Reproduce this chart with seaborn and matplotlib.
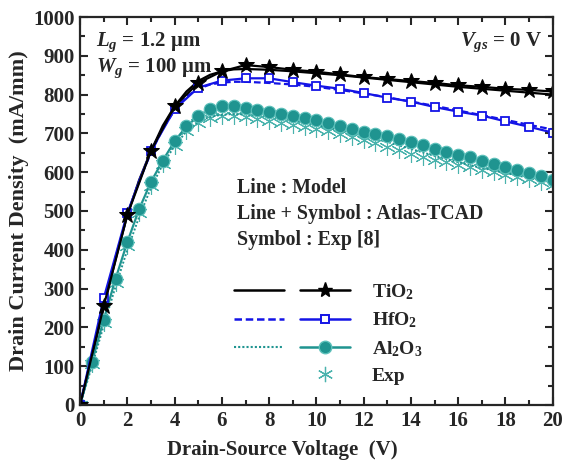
import numpy as np
import pandas as pd
import seaborn as sns
import matplotlib.pyplot as plt
from matplotlib.lines import Line2D
from matplotlib.legend_handler import HandlerTuple
from matplotlib.ticker import MultipleLocator

# --- data ---
v_int = list(range(0, 21))
tio2_tcad = [0, 255, 490, 655, 770, 830, 860, 876, 871, 864, 859, 852, 845, 840, 835, 830, 824, 820, 815, 812, 808]
hfo2_tcad = [0, 275, 495, 655, 762, 818, 836, 842, 842, 832, 823, 815, 804, 792, 782, 768, 756, 746, 731, 717, 702]

v_model = [0, 0.5, 1, 1.5, 2, 2.5, 3, 3.5, 4, 4.5, 5, 5.5, 6, 6.5, 7, 8, 9, 10, 11, 12, 13, 14, 15, 16, 17, 18, 19, 20]
tio2_model = [0, 125, 250, 375, 490, 580, 655, 720, 770, 808, 835, 851, 860, 865, 866, 864, 860, 855, 850, 844, 838, 832, 826, 820, 815, 810, 805, 800]
hfo2_model = [0, 130, 260, 380, 490, 578, 650, 712, 760, 795, 815, 826, 831, 833, 833, 830, 826, 820, 812, 803, 793, 782, 771, 759, 747, 735, 722, 710]
al2o3_model = [0, 100, 205, 305, 400, 485, 560, 620, 668, 705, 730, 743, 748, 750, 749, 744, 735, 722, 708, 693, 678, 660, 642, 626, 611, 598, 585, 572]

v_half = [i * 0.5 for i in range(41)]
al2o3_tcad = [0, 110, 220, 325, 420, 505, 575, 630, 680, 718, 745, 763, 770, 770, 766, 761, 756, 751, 746, 740,
              734, 726, 718, 711, 704, 699, 694, 686, 678, 669, 660, 652, 645, 638, 630, 622, 614, 606, 598, 589, 580]
exp_al2o3 = [0, 105, 210, 315, 410, 495, 565, 620, 668, 705, 728, 740, 745, 745, 742, 737, 732, 727, 721, 717,
             712, 705, 698, 691, 684, 675, 666, 657, 648, 640, 632, 625, 619, 613, 606, 600, 594, 588, 582, 575, 567]

black = "black"
blue = "#1414e6"
teal = "#1f9490"
teal_exp = "#4ab3ad"

sns.set_style("ticks")
plt.rcParams["font.family"] = ["Liberation Serif", "DejaVu Serif"]
plt.rcParams["font.weight"] = "bold"
plt.rcParams["mathtext.fontset"] = "custom"
plt.rcParams["mathtext.rm"] = "Liberation Serif:bold"
plt.rcParams["mathtext.bf"] = "Liberation Serif:bold"
plt.rcParams["mathtext.it"] = "Liberation Serif:bold:italic"

fig = plt.figure(figsize=(5.64, 4.66), dpi=100)
ax = fig.add_axes([0.142, 0.131, 0.838, 0.8325])

# experiment (symbols only)
sns.lineplot(x=v_half, y=exp_al2o3, ax=ax, color=teal_exp, linestyle="none", marker=(6, 2, 0),
             markersize=12, markeredgewidth=0.8, markeredgecolor=teal_exp, sort=False)
# model lines
sns.lineplot(x=v_model, y=tio2_model, ax=ax, color=black, linewidth=1.6, sort=False)
sns.lineplot(x=v_model, y=hfo2_model, ax=ax, color=blue, linewidth=1.6, linestyle=(0, (3, 1.5)), sort=False)
sns.lineplot(x=v_model, y=al2o3_model, ax=ax, color=teal, linewidth=1.4, linestyle=(0, (1, 1)), sort=False)
# TCAD lines + symbols
sns.lineplot(x=v_half, y=al2o3_tcad, ax=ax, color=teal, linewidth=1.6, marker="o", markersize=9,
             markerfacecolor=teal, markeredgecolor="#5cc0ba", markeredgewidth=0.8, sort=False)
sns.lineplot(x=v_int, y=hfo2_tcad, ax=ax, color=blue, linewidth=1.6, marker="s", markersize=5.5,
             markerfacecolor="white", markeredgecolor=blue, markeredgewidth=1.3, sort=False)
sns.lineplot(x=v_int, y=tio2_tcad, ax=ax, color=black, linewidth=1.6, marker="*", markersize=12,
             markerfacecolor=black, markeredgecolor=black, sort=False)

ax.set_xlim(0, 20)
ax.set_ylim(0, 1000)
ax.xaxis.set_major_locator(MultipleLocator(2))
ax.xaxis.set_minor_locator(MultipleLocator(1))
ax.yaxis.set_major_locator(MultipleLocator(100))
ax.yaxis.set_minor_locator(MultipleLocator(50))
ax.tick_params(which="both", direction="in", top=True, right=True, width=1.5, labelsize=15)
ax.tick_params(which="major", length=6, pad=4)
ax.tick_params(which="minor", length=3.5)
for s in ax.spines.values():
    s.set_linewidth(1.6)
for lab in ax.get_xticklabels() + ax.get_yticklabels():
    lab.set_fontweight("bold")

ax.set_xlabel("Drain-Source Voltage  (V)", fontsize=15, fontweight="bold")
ax.set_ylabel("Drain Current Density  (mA/mm)", fontsize=16, fontweight="bold", labelpad=3)
ax.xaxis.set_label_coords(0.427, -0.09)

ax.text(0.034, 0.936, r"$L_g$ = 1.2 μm", transform=ax.transAxes, fontsize=15, fontweight="bold", va="center")
ax.text(0.034, 0.869, r"$W_g$ = 100 μm", transform=ax.transAxes, fontsize=15, fontweight="bold", va="center")
ax.text(0.978, 0.936, r"$V_{gs}$ = 0 V", transform=ax.transAxes, fontsize=15, fontweight="bold",
        va="center", ha="right")
ax.text(0.332, 0.559, "Line : Model", transform=ax.transAxes, fontsize=14.3, fontweight="bold", va="center")
ax.text(0.332, 0.492, "Line + Symbol : Atlas-TCAD", transform=ax.transAxes, fontsize=14.3,
        fontweight="bold", va="center")
ax.text(0.332, 0.425, "Symbol : Exp [8]", transform=ax.transAxes, fontsize=14.3, fontweight="bold", va="center")

h_tio2 = (Line2D([], [], color=black, lw=1.8),
          Line2D([], [], color=black, lw=1.8, marker="*", markersize=11))
h_hfo2 = (Line2D([], [], color=blue, lw=1.8, linestyle=(0, (3, 1.5))),
          Line2D([], [], color=blue, lw=1.8, marker="s", markersize=6, markerfacecolor="white",
                 markeredgewidth=1.4))
h_al = (Line2D([], [], color=teal, lw=1.5, linestyle=(0, (1, 1))),
        Line2D([], [], color=teal, lw=1.8, marker="o", markersize=9, markeredgecolor="#5cc0ba"))
h_exp = (Line2D([], [], linestyle="none"),
         Line2D([], [], color=teal_exp, linestyle="none", marker=(6, 2, 0), markersize=11,
                markeredgewidth=0.9))
leg = ax.legend([h_tio2, h_hfo2, h_al, h_exp], ["TiO$_2$", "HfO$_2$", "Al$_2$O$_3$", "Exp"],
                handler_map={tuple: HandlerTuple(ndivide=None, pad=0.86)},
                loc="upper left", bbox_to_anchor=(0.325, 0.317), frameon=False, borderpad=0,
                borderaxespad=0, handlelength=6, handletextpad=1.1, labelspacing=0.45,
                prop={"family": "Liberation Serif", "weight": "bold", "size": 14})

fig.savefig("out.png", dpi=100)
